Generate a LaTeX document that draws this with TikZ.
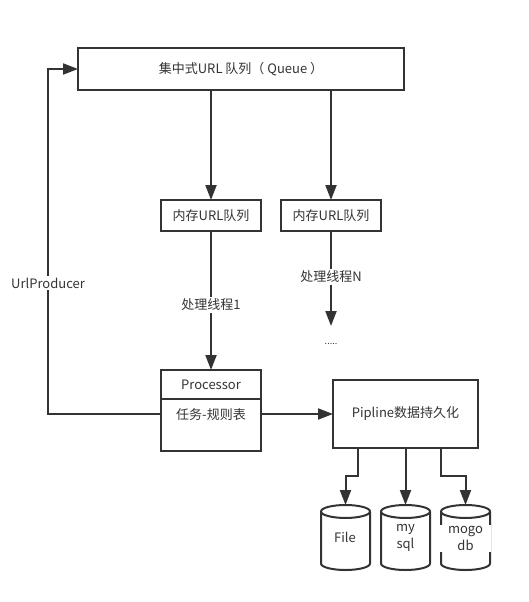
\documentclass[tikz,border=0pt]{standalone}
\usepackage{fontspec}
\setmainfont{Noto Sans CJK SC}
\usetikzlibrary{arrows.meta,shapes.geometric}
\definecolor{ink}{HTML}{333333}
\tikzset{
	boxnode/.style={draw=ink, line width=2pt, fill=white, minimum width=#1, outer sep=0pt, inner sep=0pt},
	flow/.style={draw=ink, line width=2pt, -{Triangle[length=15pt,width=11pt]}},
	txt/.style={text=ink, font=\fontsize{13}{17}\selectfont, inner sep=1pt},
	lbl/.style={txt, fill=white, inner sep=2pt},
	store/.style={draw=ink, line width=2pt, fill=white, cylinder, shape border rotate=90, aspect=0.27, minimum width=49pt, minimum height=65pt, outer sep=0pt, inner sep=24pt, anchor=top}
}
\begin{document}
\begin{tikzpicture}[x=1pt, y=-1pt, line join=miter]
	\useasboundingbox (0,0) rectangle (529,602);
	% top queue and the two memory queues
	\node[boxnode=326pt, minimum height=42pt, txt] (queue) at (241,69) {集中式URL 队列（ Queue ）};
	\node[boxnode=100pt, minimum height=31pt, txt] (memA) at (211,215.5) {内存URL队列};
	\node[boxnode=100pt, minimum height=31pt, txt] (memB) at (331,215.5) {内存URL队列};
	% processor
	\node[boxnode=100pt, minimum height=81pt] (proc) at (211,410.5) {};
	\node[boxnode=100pt, minimum height=29pt, txt, anchor=north] (prochead) at (proc.north) {Processor};
	\node[txt] (tasks) at (211,415) {任务-规则表};
	\node[boxnode=145pt, minimum height=68pt, txt] (pipe) at (405.5,414) {Pipline数据持久化};
	\node[txt, font=\fontsize{9}{11}\selectfont] (dots) at (331,344) {.....};
	\coordinate (endB) at (331,326);
	% data stores
	\node[store] (file) at (345.5,505) {};
	\node[store] (mysql) at (405.5,505) {};
	\node[store] (mogo) at (465.5,505) {};
	\node[txt] (fileT) at (345,537) {File};
	\node[txt, align=center] (mysqlT) at (405.5,538) {my\\sql};
	\node[txt, align=center, fill=white, minimum width=51pt, minimum height=27pt, inner sep=0pt] (mogoT) at (465.5,538) {mogo\\db};
	% connectors
	\draw[flow] (queue.south -| memA) -- (memA.north);
	\draw[flow] (queue.south -| memB) -- (memB.north);
	\draw[flow] (memA.south) -- node[lbl, pos=.53] (threadA) {处理线程1} (prochead.north);
	\draw[flow] (memB.south) -- node[lbl, pos=.48] (threadB) {处理线程N} (endB);
	\draw[flow] (proc.east |- pipe) -- (pipe.west);
	\draw[flow] (proc.west |- pipe) -- (48,414) -- (48,69) -- (queue.west);
	\node[lbl] (producer) at (48,283) {UrlProducer};
	\draw[flow] (358,448) -- (358,476) -- (345.5,476) -- (file.top);
	\draw[flow] (pipe.south -| mysql) -- (mysql.top);
	\draw[flow] (441,448) -- (441,476) -- (465.5,476) -- (mogo.top);
\end{tikzpicture}
\end{document}
